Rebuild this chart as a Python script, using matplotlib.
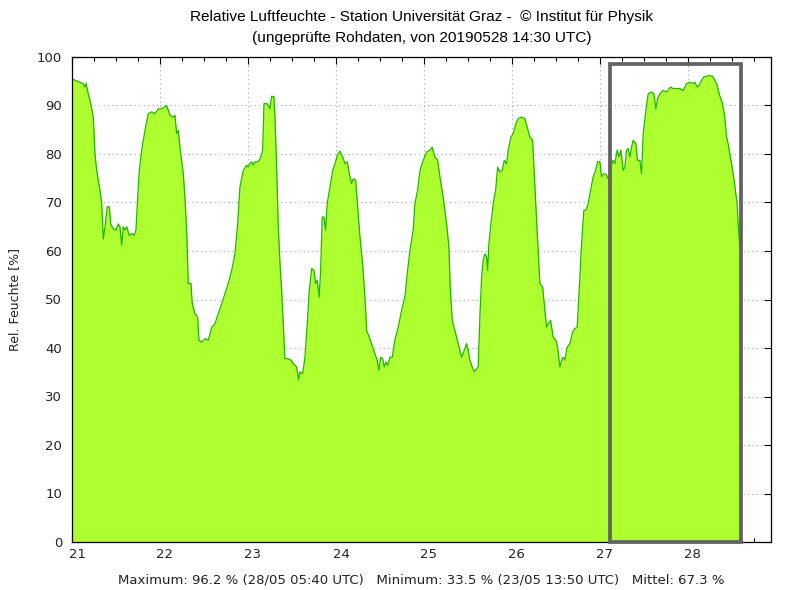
import matplotlib.pyplot as plt
import matplotlib.transforms as mtransforms
from matplotlib.patches import Rectangle
from matplotlib.ticker import MultipleLocator

# Zeit in Tagen (Tag im Mai, UTC)
tag = [21.000, 21.091, 21.128, 21.148, 21.159, 21.185, 21.213, 21.242, 21.261, 21.281,
       21.318, 21.338, 21.356, 21.375, 21.401, 21.424, 21.440, 21.469, 21.500, 21.526,
       21.545, 21.565, 21.583, 21.602, 21.622, 21.651, 21.678, 21.705, 21.727, 21.747,
       21.765, 21.792, 21.830, 21.867, 21.906, 21.943, 21.981, 22.019, 22.057, 22.076,
       22.114, 22.151, 22.170, 22.190, 22.208, 22.227, 22.265, 22.284, 22.303, 22.322,
       22.352, 22.367, 22.398, 22.428, 22.443, 22.474, 22.511, 22.549, 22.588, 22.625,
       22.663, 22.701, 22.739, 22.776, 22.815, 22.852, 22.883, 22.909, 22.947, 22.985,
       23.003, 23.023, 23.042, 23.060, 23.080, 23.117, 23.148, 23.167, 23.182, 23.213,
       23.231, 23.250, 23.269, 23.295, 23.307, 23.326, 23.344, 23.364, 23.383, 23.401,
       23.420, 23.458, 23.489, 23.515, 23.553, 23.576, 23.591, 23.622, 23.648, 23.674,
       23.697, 23.724, 23.750, 23.769, 23.788, 23.810, 23.826, 23.844, 23.864, 23.883,
       23.901, 23.932, 23.963, 23.989, 24.015, 24.045, 24.076, 24.102, 24.128, 24.159,
       24.178, 24.197, 24.224, 24.242, 24.273, 24.303, 24.330, 24.349, 24.378, 24.417,
       24.443, 24.469, 24.489, 24.508, 24.531, 24.549, 24.568, 24.588, 24.614, 24.640,
       24.670, 24.708, 24.747, 24.784, 24.810, 24.841, 24.878, 24.898, 24.928, 24.955,
       24.992, 25.031, 25.068, 25.094, 25.125, 25.156, 25.182, 25.219, 25.258, 25.284,
       25.299, 25.322, 25.352, 25.390, 25.428, 25.458, 25.485, 25.503, 25.523, 25.549,
       25.572, 25.599, 25.617, 25.636, 25.656, 25.674, 25.693, 25.712, 25.724, 25.739,
       25.761, 25.788, 25.815, 25.838, 25.864, 25.890, 25.913, 25.940, 25.958, 25.989,
       26.015, 26.045, 26.072, 26.110, 26.148, 26.178, 26.205, 26.235, 26.250, 26.273,
       26.299, 26.318, 26.349, 26.375, 26.394, 26.413, 26.440, 26.469, 26.500, 26.519,
       26.545, 26.565, 26.583, 26.602, 26.628, 26.659, 26.690, 26.716, 26.742, 26.765,
       26.792, 26.818, 26.841, 26.867, 26.894, 26.924, 26.951, 26.974, 27.000, 27.019,
       27.045, 27.068, 27.094, 27.119, 27.151, 27.170, 27.197, 27.219, 27.239, 27.265,
       27.284, 27.303, 27.322, 27.341, 27.360, 27.378, 27.409, 27.428, 27.455, 27.474,
       27.492, 27.523, 27.549, 27.588, 27.614, 27.636, 27.656, 27.682, 27.719, 27.758,
       27.803, 27.833, 27.872, 27.909, 27.947, 27.985, 28.023, 28.053, 28.080, 28.106,
       28.128, 28.156, 28.182, 28.212, 28.236, 28.281, 28.307, 28.333, 28.356, 28.375,
       28.394, 28.420, 28.440, 28.458, 28.477, 28.503, 28.526, 28.545, 28.560, 28.572,
       28.588, 28.604]

feuchte = [95.5, 94.8, 94.5, 93.8, 94.6, 92.4, 90.4, 87.6, 80.0, 76.6,
           72.5, 69.8, 62.5, 65.0, 69.1, 69.1, 65.6, 64.6, 64.3, 65.6,
           65.0, 61.2, 65.0, 64.3, 65.0, 63.2, 63.6, 63.2, 64.3, 71.1,
           76.6, 80.8, 84.9, 88.3, 88.7, 88.3, 89.3, 89.3, 89.8, 90.0,
           88.0, 87.6, 88.0, 84.2, 84.9, 81.4, 75.9, 71.0, 64.3, 53.3,
           53.3, 49.1, 47.1, 46.4, 41.6, 41.2, 41.9, 41.6, 44.3, 45.0,
           47.1, 49.1, 51.2, 53.3, 56.0, 59.4, 65.6, 73.2, 76.6, 77.7,
           77.3, 78.0, 78.4, 77.7, 78.4, 78.4, 79.4, 80.8, 90.4, 90.4,
           90.0, 89.3, 91.9, 91.8, 87.6, 77.3, 65.6, 57.4, 51.9, 45.0,
           37.8, 37.8, 37.5, 36.8, 36.1, 33.5, 35.1, 34.7, 38.1, 45.0,
           51.9, 56.4, 56.0, 53.3, 54.0, 50.5, 56.0, 67.0, 67.0, 64.3,
           69.8, 73.2, 76.6, 78.0, 79.7, 80.6, 79.4, 78.0, 78.4, 75.3,
           73.9, 74.9, 74.6, 70.4, 62.9, 57.4, 50.5, 43.6, 42.3, 40.2,
           38.8, 37.5, 35.4, 38.1, 37.8, 36.1, 37.1, 36.4, 38.1, 38.1,
           41.6, 44.3, 47.8, 50.5, 55.3, 60.1, 64.3, 69.8, 72.5, 76.6,
           78.7, 80.4, 80.8, 81.4, 79.4, 78.7, 75.3, 71.1, 65.6, 60.8,
           52.6, 45.7, 43.6, 40.9, 38.1, 39.5, 40.9, 39.5, 37.5, 36.1,
           35.1, 35.7, 36.1, 46.4, 54.6, 58.1, 59.4, 58.8, 56.0, 61.5,
           65.6, 69.8, 72.5, 77.3, 76.3, 76.6, 78.7, 78.0, 80.8, 83.5,
           84.2, 86.3, 87.3, 87.6, 87.3, 85.2, 83.5, 82.8, 77.3, 69.1,
           60.1, 53.3, 52.6, 47.8, 44.3, 45.0, 45.7, 42.3, 41.6, 40.2,
           36.1, 37.5, 38.1, 37.5, 40.2, 40.9, 43.3, 44.0, 44.3, 51.9,
           61.5, 68.4, 68.4, 69.8, 72.5, 75.3, 76.6, 78.4, 78.4, 75.3,
           75.9, 75.9, 74.9, 77.0, 78.7, 78.0, 80.8, 79.4, 80.8, 76.6,
           77.3, 80.8, 81.1, 79.4, 81.4, 82.8, 82.1, 78.7, 78.7, 75.9,
           84.2, 89.0, 92.4, 92.8, 92.4, 89.3, 91.4, 92.4, 93.1, 92.8,
           93.8, 93.5, 93.5, 93.5, 93.1, 94.5, 94.8, 94.5, 94.8, 93.8,
           94.2, 95.2, 95.9, 96.0, 96.2, 96.0, 95.2, 94.2, 92.4, 91.4,
           90.4, 87.6, 83.5, 82.1, 80.1, 77.3, 74.6, 71.8, 69.8, 65.6,
           61.5, 60.0]

tage = [21, 22, 23, 24, 25, 26, 27, 28]
# markierter Zeitraum (letzte 36 h)
markierung_start = 27.12
markierung_ende = 28.60
markierung_oben = 98.6

fig = plt.figure(figsize=(7.86, 5.9), dpi=100)
ax = fig.add_axes([72 / 786, 1 - 542 / 590, 699 / 786, 485 / 590])

ax.fill_between(tag, feuchte, 0, color="#adff2f", linewidth=0)
ax.plot(tag, feuchte, color="#22b400", linewidth=0.9)

rahmen = Rectangle((markierung_start, 0), markierung_ende - markierung_start, markierung_oben,
                   fill=False, edgecolor="#626262", linewidth=2.7, clip_on=False, zorder=5)
ax.add_patch(rahmen)

ax.set_xlim(21, 28.945)
ax.set_ylim(0, 100)
ax.set_xticks(tage)
ax.set_xticklabels([str(t) for t in tage])
ax.xaxis.set_minor_locator(MultipleLocator(0.25))
ax.yaxis.set_major_locator(MultipleLocator(10))

ax.set_axisbelow(True)
ax.grid(True, which="major", color="#a8a8a8", linestyle=(0, (1, 3)), linewidth=0.8)

ax.tick_params(which="both", direction="in", top=True, right=True, labelsize=9.5,
               colors="black", labelcolor="#222222")
ax.tick_params(which="major", length=5, width=0.8)
ax.tick_params(which="minor", length=3, width=0.8)
ax.tick_params(axis="x", pad=4)
ax.tick_params(axis="y", pad=7)
versatz = mtransforms.ScaledTranslation(5 / 100, 0, fig.dpi_scale_trans)
for lbl in ax.get_xticklabels():
    lbl.set_transform(lbl.get_transform() + versatz)

for s in ax.spines.values():
    s.set_linewidth(0.9)
    s.set_color("black")

ax.set_ylabel("Rel. Feuchte [%]", fontsize=9, color="#222222")
ax.yaxis.set_label_coords(-0.073, 0.5)

mitte = (72 + 771) / 2 / 786
fig.text(mitte, 1 - 17 / 590, "Relative Luftfeuchte - Station Universität Graz -  © Institut für Physik",
         ha="center", va="center", fontsize=11.1, family="Liberation Sans")
fig.text(mitte, 1 - 38 / 590, "(ungeprüfte Rohdaten, von 20190528 14:30 UTC)",
         ha="center", va="center", fontsize=11.1, family="Liberation Sans")
fig.text(mitte, 1 - 580 / 590,
         "Maximum: 96.2 % (28/05 05:40 UTC)   Minimum: 33.5 % (23/05 13:50 UTC)   Mittel: 67.3 %",
         ha="center", va="center", fontsize=9.5, color="#222222")

fig.savefig("out.png", dpi=100)
